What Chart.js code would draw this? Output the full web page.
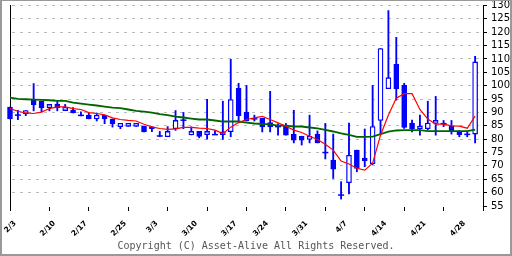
<!DOCTYPE html>
<html><head><meta charset="utf-8">
<script src="https://cdn.jsdelivr.net/npm/chart.js@4/dist/chart.umd.min.js"></script>
<style>
html,body{margin:0;padding:0;background:#fff;}
#wrap{position:relative;width:512px;height:256px;overflow:hidden;}
#c{position:absolute;left:0;top:0;}
#frame{position:absolute;left:0;top:0;width:512px;height:256px;box-sizing:border-box;border:2px solid #999;border-top-width:1px;pointer-events:none;}
#copy{position:absolute;left:0;width:512px;top:240px;line-height:12px;text-align:center;font-family:"DejaVu Sans Mono",monospace;font-size:10px;color:#555;white-space:nowrap;}
</style></head><body>
<div id="wrap"><canvas id="c" width="512" height="256"></canvas><div id="copy">Copyright (C) Asset-Alive All Rights Reserved.</div><div id="frame"></div></div>
<script>
// trading days (categories)
const dates = ['2/3','2/4','2/5','2/6','2/7','2/10','2/12','2/13','2/14','2/17','2/18','2/19','2/20','2/21','2/25','2/26','2/27','2/28',
  '3/3','3/4','3/5','3/6','3/7','3/10','3/11','3/12','3/13','3/14','3/17','3/18','3/19','3/21','3/24','3/25','3/26','3/27','3/28','3/31',
  '4/1','4/2','4/3','4/4','4/7','4/8','4/9','4/10','4/11','4/14','4/15','4/16','4/17','4/18','4/21','4/22','4/23','4/24','4/25','4/28','4/30','5/1'];
const tickLabels = ['2/3','2/10','2/17','2/25','3/3','3/10','3/17','3/24','3/31','4/7','4/14','4/21','4/28'];
const tickMarkStep = 5;
const openP  = [92.0,89.0,89.5,94.8,94.2,91.8,93.1,90.7,90.8,88.9, 89.0,87.6,88.9,87.5,84.7,84.8,84.8,84.9,84.6,81.2, 80.9,83.9,87.1,81.6,82.9,81.7,81.7,81.7,82.8,99.0, 90.1,87.6,87.8,86.2,84.7,85.0,81.8,81.1,79.9,81.9, 75.0,72.2,59.1,63.7,75.9,72.9,70.8,87.0,98.9,108.0, 100.1,86.0,83.9,83.9,85.9,85.8,84.9,82.9,81.8,81.9];
const highP  = [92.0,90.8,90.7,100.8,94.2,93.0,94.1,93.0,91.8,90.2, 89.8,89.8,88.9,87.6,85.9,85.9,85.9,84.9,84.6,82.9, 84.7,90.7,90.0,84.6,82.9,94.9,83.2,94.2,109.9,100.9, 100.1,89.0,87.8,97.9,85.7,85.9,90.8,81.1,89.0,83.1, 85.9,81.9,64.1,86.0,75.9,83.8,100.1,113.9,128.1,118.1, 100.9,87.1,89.0,94.2,96.0,87.0,87.0,83.2,82.7,111.0];
const lowP   = [87.6,87.3,88.8,90.6,90.2,90.6,90.6,90.7,89.8,88.7, 87.6,86.8,85.8,84.5,83.9,84.8,84.8,82.7,82.8,80.9, 80.9,83.3,83.9,81.6,80.5,80.0,81.7,79.9,80.9,86.3, 86.8,86.8,82.7,82.7,81.5,81.5,78.6,77.8,78.6,78.6, 72.6,65.3,57.6,59.5,67.8,69.7,70.5,81.8,98.9,94.6, 84.0,82.7,81.5,83.5,81.5,84.7,81.9,80.9,80.9,78.6];
const closeP = [87.6,89.0,90.7,92.8,91.7,93.0,91.8,91.9,89.8,88.9, 87.6,88.9,87.6,85.7,85.9,85.9,85.9,82.7,83.9,81.2, 82.9,87.0,87.1,82.9,81.0,82.9,81.7,82.7,94.8,88.8, 86.8,87.6,84.6,84.6,84.7,81.5,79.6,79.6,81.1,78.6, 75.0,68.8,59.1,74.0,69.1,71.9,84.7,113.9,103.0,98.8, 84.4,83.9,84.9,86.0,87.0,85.8,83.2,81.7,81.8,108.9];
const ma5    = [91.45,90.45,89.8,89.6,90.1,91.45,92.05,92.05,91.45,91.1, 89.95,89.6,89.1,87.95,87.35,87.0,86.8,85.6,84.6,84.0, 83.7,83.85,84.4,84.4,84.1,84.0,83.4,82.1,84.5,86.2, 87.35,87.95,88.5,87.35,86.1,84.85,83.4,82.5,81.1,79.9, 78.1,75.9,71.8,70.7,69.1,68.4,71.0,81.5,89.0,95.3, 97.0,97.0,91.1,87.5,85.6,85.6,85.0,84.85,84.1,88.6];
const ma25   = [95.56,95.04,94.93,94.8,94.7,94.55,94.3,94.3,93.7,93.33, 92.95,92.6,92.2,91.8,91.6,91.1,90.56,90.33,89.96,89.4, 88.96,88.47,88.1,87.7,87.35,87.35,86.98,86.6,86.6,86.6, 86.2,85.86,85.67,85.5,85.1,85.1,84.74,84.74,84.37,84.0, 83.47,82.87,82.13,81.6,80.86,80.86,80.93,81.87,82.8,83.25, 83.35,83.35,83.35,83.0,83.0,83.0,83.0,83.0,83.0,83.6];
const yMin = 55, yMax = 130, yStep = 5;

const BLUE = '#0000ff';
const idx = dates.map((_, i) => i);
const isDoji = i => openP[i] === closeP[i];
const xMax = Math.ceil(dates.length / tickMarkStep) * tickMarkStep;
const labelPos = tickLabels.map(l => dates.indexOf(l));

const bodyData = idx.filter(i => !isDoji(i)).map(i => ({x: i, y: [openP[i], closeP[i]]}));
const bodyFill = idx.filter(i => !isDoji(i)).map(i => closeP[i] < openP[i] ? BLUE : '#ffffff');
const dojiData = idx.filter(isDoji).map(i => ({x: i, y: openP[i]}));
const wickData = idx.map(i => ({x: i, y: [lowP[i], highP[i]]}));

new Chart(document.getElementById('c'), {
  type: 'bar',
  data: {
    datasets: [
      {type: 'line', data: ma5.map((v, i) => ({x: i, y: v})), borderColor: '#ff0000', borderWidth: 1.2, pointRadius: 0, tension: 0, order: 0},
      {type: 'line', data: ma25.map((v, i) => ({x: i, y: v})), borderColor: '#006400', borderWidth: 1.8, pointRadius: 0, tension: 0, order: 1},
      {type: 'bar', data: bodyData, backgroundColor: bodyFill, borderColor: BLUE, borderWidth: 1.3, borderSkipped: false, barThickness: 5, grouped: false, order: 2, clip: false},
      {type: 'scatter', data: dojiData, pointStyle: 'line', radius: 3, borderColor: BLUE, borderWidth: 1.5, order: 3, clip: false},
      {type: 'bar', data: wickData, backgroundColor: BLUE, borderWidth: 0, barThickness: 1.2, grouped: false, order: 4, clip: false}
    ]
  },
  options: {
    responsive: false,
    animation: false,
    events: [],
    layout: {padding: {top: 5, left: 0, right: 0, bottom: 0}},
    plugins: {legend: {display: false}, tooltip: {enabled: false}},
    scales: {
      x: {
        type: 'linear', position: 'bottom', weight: 0, min: 0, max: xMax, offset: false,
        afterBuildTicks: s => { const t = []; for (let v = 0; v <= xMax; v += tickMarkStep) t.push({value: v}); s.ticks = t; },
        afterFit: s => { s.height = 5; s.paddingLeft = 0; s.paddingRight = 0; },
        ticks: {display: false, autoSkip: false},
        grid: {display: true, offset: false, drawOnChartArea: false, drawTicks: true, tickLength: 5, tickWidth: 1, tickColor: '#000', color: '#000', z: 1},
        border: {display: true, color: '#000', width: 1}
      },
      xl: {
        type: 'linear', position: 'bottom', weight: 1, min: 0, max: xMax, offset: false,
        afterBuildTicks: s => { s.ticks = labelPos.map(p => ({value: p})); },
        afterFit: s => { s.height = 45; s.paddingLeft = 0; s.paddingRight = 0; },
        ticks: {autoSkip: false, maxRotation: 45, minRotation: 45, labelOffset: 5, padding: 8,
          callback: v => dates[Math.round(v)],
          font: {family: 'DejaVu Sans', size: 7.5, weight: 'bold'}, color: '#000'},
        grid: {display: false, drawOnChartArea: false, drawTicks: false},
        border: {display: false}
      },
      y: {
        type: 'linear', position: 'right', min: yMin, max: yMax,
        afterBuildTicks: s => { const t = []; for (let v = yMin; v <= yMax; v += yStep) t.push({value: v}); s.ticks = t; },
        afterFit: s => { s.width = 29; s.paddingTop = 0; s.paddingBottom = 0; },
        ticks: {autoSkip: false, padding: 4, font: {family: 'DejaVu Sans', size: 10}, color: '#000'},
        grid: {color: ctx => ctx.tick && ctx.tick.value === yMin ? 'rgba(0,0,0,0)' : '#bbbbbb', tickColor: '#000', tickLength: 4, tickBorderDash: [], lineWidth: 1},
        border: {display: true, color: '#000', width: 1, dash: [3, 5], dashOffset: -2}
      },
      yl: {
        type: 'linear', position: 'left', min: yMin, max: yMax,
        afterFit: s => { s.width = 10; s.paddingTop = 0; s.paddingBottom = 0; },
        ticks: {display: false},
        grid: {drawOnChartArea: false, drawTicks: false},
        border: {display: true, color: '#000', width: 1}
      }
    }
  }
});
</script>
</body></html>
